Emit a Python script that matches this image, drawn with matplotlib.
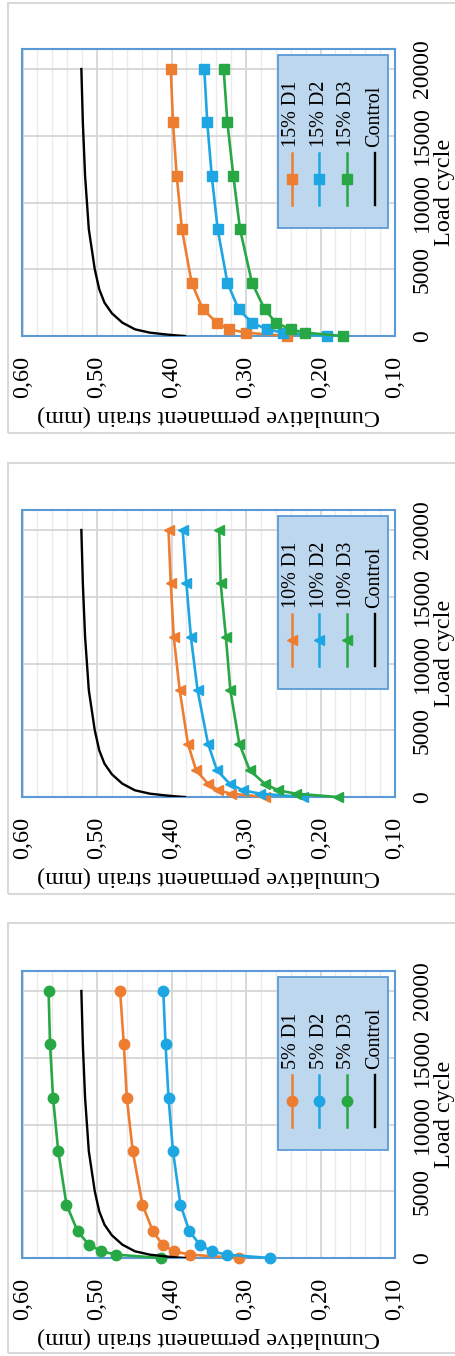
import matplotlib
matplotlib.use("Agg")
import matplotlib.pyplot as plt
from matplotlib.patches import Rectangle
from matplotlib.ticker import MultipleLocator, FuncFormatter

plt.rcParams['font.family'] = ['Liberation Serif', 'DejaVu Serif']

# ---------------- data ----------------
cycles = [0, 250, 500, 1000, 2000, 4000, 8000, 12000, 16000, 20000]

d1_15 = [0.245, 0.300, 0.323, 0.339, 0.358, 0.373, 0.386, 0.393, 0.398, 0.401]
d2_15 = [0.191, 0.250, 0.272, 0.292, 0.310, 0.325, 0.338, 0.346, 0.352, 0.356]
d3_15 = [0.170, 0.221, 0.240, 0.260, 0.275, 0.292, 0.308, 0.317, 0.325, 0.330]

d1_10 = [0.274, 0.320, 0.337, 0.351, 0.367, 0.378, 0.389, 0.397, 0.401, 0.404]
d2_10 = [0.223, 0.281, 0.304, 0.322, 0.339, 0.351, 0.365, 0.374, 0.380, 0.385]
d3_10 = [0.177, 0.233, 0.257, 0.275, 0.295, 0.309, 0.321, 0.327, 0.334, 0.336]

d1_5 = [0.310, 0.375, 0.397, 0.412, 0.425, 0.439, 0.452, 0.460, 0.464, 0.469]
d2_5 = [0.268, 0.326, 0.346, 0.362, 0.376, 0.388, 0.398, 0.404, 0.408, 0.411]
d3_5 = [0.414, 0.474, 0.494, 0.511, 0.526, 0.541, 0.552, 0.559, 0.563, 0.565]

control_cycles = [0, 50, 125, 250, 500, 1000, 1700, 2500, 3500, 5000, 8000, 12000, 16000, 20000]
control_strain = [0.382, 0.395, 0.409, 0.429, 0.449, 0.466, 0.480, 0.490, 0.497, 0.503,
                  0.511, 0.516, 0.519, 0.521]

panels = [
    ("15%", "s", [d1_15, d2_15, d3_15]),
    ("10%", "<", [d1_10, d2_10, d3_10]),
    ("5%", "o", [d1_5, d2_5, d3_5]),
]
series_names = ["D1", "D2", "D3"]
strain_ticks = [0.60, 0.50, 0.40, 0.30, 0.20, 0.10]
cycle_ticks = [0, 5000, 10000, 15000, 20000]

# ---------------- style ----------------
colors = ['#ED7D31', '#1EA6E2', '#27A844']
frame_c = '#5B9BD5'
legend_fc = '#BDD7EE'

W, H = 456, 1356
fig = plt.figure(figsize=(W / 100, H / 100), dpi=100)

plot_tops = [49, 510, 971]
outer = [(3, 433), (463, 894), (923, 1353)]
px_left, px_right = 22.5, 395
plot_h = 287

for (o_top, o_bot) in outer:
    fig.add_artist(Rectangle((8 / W, 1 - o_bot / H), 1.1, (o_bot - o_top) / H,
                             transform=fig.transFigure, fill=False,
                             ec='#D9D9D9', lw=1.5))

for (pct, mk, data), top in zip(panels, plot_tops):
    ax = fig.add_axes([px_left / W, 1 - (top + plot_h) / H,
                       (px_right - px_left) / W, plot_h / H])
    ax.set_xlim(0.60, 0.10)
    ax.set_ylim(0, 21500)

    ax.xaxis.set_minor_locator(MultipleLocator(0.02))
    ax.set_xticks(strain_ticks)
    ax.set_yticks(cycle_ticks)
    ax.xaxis.set_major_formatter(FuncFormatter(lambda v, p: f"{v:.2f}".replace('.', ',')))
    ax.grid(which='major', axis='both', color='#D6D6D6', lw=1.3)
    ax.grid(which='minor', axis='x', color='#EBEBEB', lw=1.0)
    ax.set_axisbelow(True)

    ax.tick_params(axis='x', which='both', length=0, labelsize=17.5, pad=14,
                   labelrotation=90)
    ax.tick_params(axis='y', which='both', length=0, labelsize=17, pad=12,
                   left=False, labelleft=False, right=False, labelright=True)
    for lab in ax.get_yticklabels():
        lab.set_rotation(90)
        lab.set_va('center')
        lab.set_ha('left')

    for s in ax.spines.values():
        s.set_color(frame_c)
        s.set_linewidth(1.5)

    for vals, c in zip(data, colors):
        ax.plot(vals, cycles, color=c, lw=1.9, marker=mk, ms=7.5, mec=c, mfc=c,
                clip_on=False, zorder=3)
    ax.plot(control_strain, control_cycles, color='black', lw=1.7, zorder=4)

    ax.text(0.5, -0.279, "Cumulative permanent strain (mm)", transform=ax.transAxes,
            rotation=180, ha='center', va='center', fontsize=17.5)
    ax.text(1.132, 0.5, "Load cycle", transform=ax.transAxes,
            rotation=90, ha='center', va='center', fontsize=17.5)

    # rotated legend (entries laid out left to right, text reading upward)
    lx0, lx1, ly0, ly1 = 0.686, 0.981, 0.376, 0.979
    ax.add_patch(Rectangle((lx0, ly0), lx1 - lx0, ly1 - ly0, transform=ax.transAxes,
                           fc=legend_fc, ec=frame_c, lw=1.3, zorder=5))
    col_x = [0.723, 0.797, 0.870, 0.946]
    labels = [f"{pct} {n}" for n in series_names] + ["Control"]
    for i, (xx, lab) in enumerate(zip(col_x, labels)):
        if i < 3:
            ax.plot([xx, xx], [0.456, 0.638], transform=ax.transAxes, color=colors[i],
                    lw=1.8, zorder=6, clip_on=False)
            ax.plot([xx], [0.547], transform=ax.transAxes, color=colors[i], marker=mk,
                    ms=7.5, zorder=7, clip_on=False)
        else:
            ax.plot([xx, xx], [0.456, 0.638], transform=ax.transAxes, color='black',
                    lw=1.7, zorder=6, clip_on=False)
        ax.text(xx, 0.659, lab, transform=ax.transAxes, rotation=90,
                rotation_mode='anchor', ha='left', va='center', fontsize=14.5, zorder=7)

fig.savefig("out.png", dpi=100)
